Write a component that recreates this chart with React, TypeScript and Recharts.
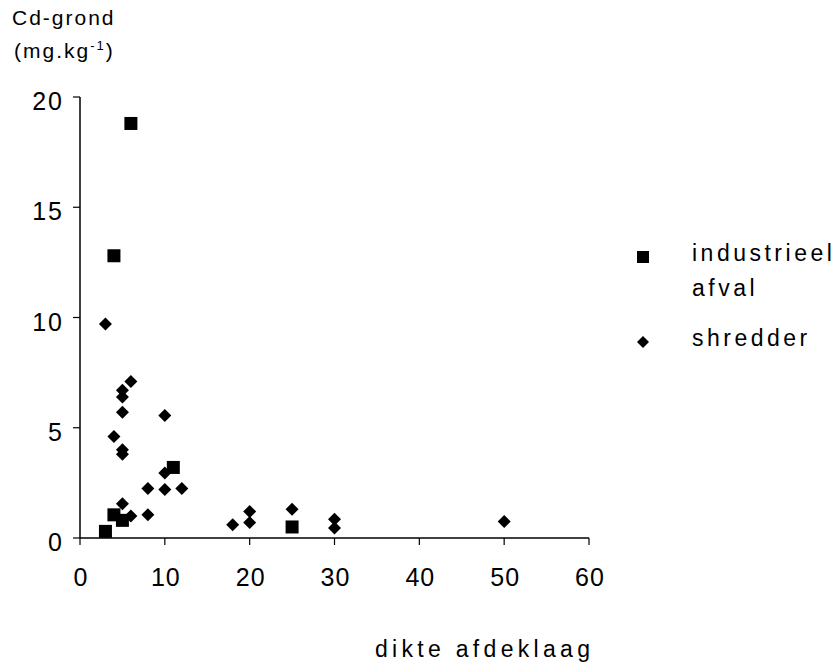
import { Scatter, ScatterChart, XAxis, YAxis } from "recharts";

const xTicks = [0, 10, 20, 30, 40, 50, 60];
const yTicks = [0, 5, 10, 15, 20];

const industrieel = [
  { x: 3, y: 0.3 },
  { x: 4, y: 1.05 },
  { x: 4, y: 12.8 },
  { x: 5, y: 0.8 },
  { x: 6, y: 18.8 },
  { x: 11, y: 3.2 },
  { x: 25, y: 0.5 },
];

const shredder = [
  { x: 3, y: 9.7 },
  { x: 4, y: 4.6 },
  { x: 5, y: 6.7 },
  { x: 5, y: 6.4 },
  { x: 5, y: 5.7 },
  { x: 5, y: 4.0 },
  { x: 5, y: 3.8 },
  { x: 5, y: 1.55 },
  { x: 6, y: 7.1 },
  { x: 6, y: 1.0 },
  { x: 8, y: 2.25 },
  { x: 8, y: 1.05 },
  { x: 10, y: 5.55 },
  { x: 10, y: 2.95 },
  { x: 10, y: 2.2 },
  { x: 12, y: 2.25 },
  { x: 18, y: 0.6 },
  { x: 20, y: 1.2 },
  { x: 20, y: 0.7 },
  { x: 25, y: 1.3 },
  { x: 30, y: 0.85 },
  { x: 30, y: 0.45 },
  { x: 50, y: 0.75 },
];

// legend text, split over two lines for the first series like in the original
const legendLines = ["industrieel", "afval", "shredder"];

const FONT = "'Liberation Sans', Arial, Helvetica, sans-serif";

function SquareDot(props: any) {
  const { cx, cy } = props;
  const s = 13;
  return <rect x={cx - s / 2} y={cy - s / 2} width={s} height={s} fill="#000" />;
}

function DiamondDot(props: any) {
  const { cx, cy } = props;
  const r = 6.5;
  return <polygon points={`${cx},${cy - r} ${cx + r},${cy} ${cx},${cy + r} ${cx - r},${cy}`} fill="#000" />;
}

function YTick(props: any) {
  const { x, y, payload } = props;
  return (
    <text x={x} y={y + 13} textAnchor="end" fontSize={25} fontFamily={FONT} letterSpacing={2} fill="#000">
      {payload.value}
    </text>
  );
}

function XTick(props: any) {
  const { x, y, payload } = props;
  return (
    <text x={x + 1} y={y + 39} textAnchor="middle" fontSize={25} fontFamily={FONT} letterSpacing={1} fill="#000">
      {payload.value}
    </text>
  );
}

export default function App() {
  return (
    <div style={{ position: "absolute", left: 0, top: 0, width: 836, height: 664, background: "#fff" }}>
      <ScatterChart width={836} height={664} margin={{ top: 97, right: 247, bottom: 66, left: 0 }}>
        <XAxis
          type="number"
          dataKey="x"
          domain={[0, 60]}
          ticks={xTicks}
          interval={0}
          height={60}
          tickSize={7}
          tickMargin={2}
          axisLine={{ stroke: "#000", strokeWidth: 1.5 }}
          tickLine={{ stroke: "#000", strokeWidth: 1.2 }}
          tick={<XTick />}
        />
        <YAxis
          type="number"
          dataKey="y"
          domain={[0, 20]}
          ticks={yTicks}
          interval={0}
          width={80}
          tickSize={7}
          tickMargin={9}
          axisLine={{ stroke: "#000", strokeWidth: 1.5 }}
          tickLine={{ stroke: "#000", strokeWidth: 1.2 }}
          tick={<YTick />}
        />
        <Scatter name="industrieel afval" data={industrieel} shape={<SquareDot />} isAnimationActive={false} />
        <Scatter name="shredder" data={shredder} shape={<DiamondDot />} isAnimationActive={false} />
      </ScatterChart>
      <svg
        width={836}
        height={664}
        style={{ position: "absolute", left: 0, top: 0, pointerEvents: "none" }}
        fontFamily={FONT}
      >
        <text x={12} y={25} fontSize={21} letterSpacing={2} fill="#000">
          Cd-grond
        </text>
        <text x={14} y={58} fontSize={21} letterSpacing={2} fill="#000">
          (mg.kg
          <tspan fontSize={13} dy={-8}>-1</tspan>
          <tspan dy={8}>)</tspan>
        </text>
        <text x={375} y={657} fontSize={23} letterSpacing={4.3} fill="#000">
          dikte afdeklaag
        </text>
        <rect x={637} y={251} width={12} height={12} fill="#000" />
        <text x={692} y={261} fontSize={23} letterSpacing={3.5} fill="#000">
          {legendLines[0]}
        </text>
        <text x={692} y={296} fontSize={23} letterSpacing={3.5} fill="#000">
          {legendLines[1]}
        </text>
        <polygon points="643,336 649,342 643,348 637,342" fill="#000" />
        <text x={692} y={346} fontSize={23} letterSpacing={3.5} fill="#000">
          {legendLines[2]}
        </text>
      </svg>
    </div>
  );
}
